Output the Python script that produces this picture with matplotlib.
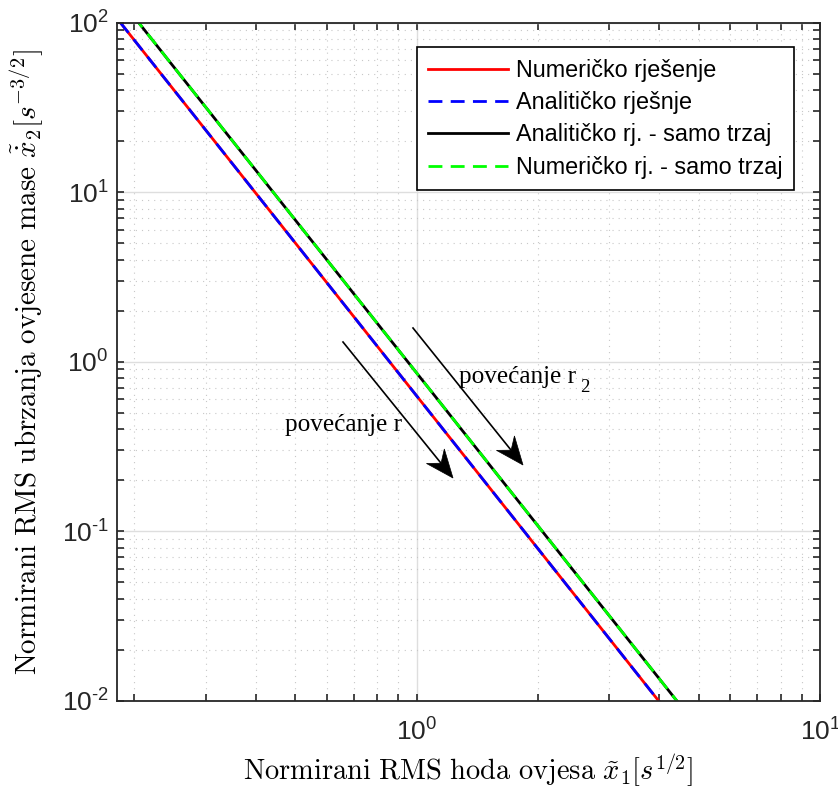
import numpy as np
import matplotlib
matplotlib.use("Agg")
import matplotlib.pyplot as plt
from matplotlib.patches import Polygon
from matplotlib.ticker import LogLocator, NullFormatter, FuncFormatter

plt.rcParams['mathtext.fontset'] = 'custom'
plt.rcParams['mathtext.rm'] = 'Liberation Sans'
plt.rcParams['mathtext.it'] = 'Liberation Sans:italic'
plt.rcParams['font.family'] = ['Liberation Sans', 'DejaVu Sans']

# ---- data ----
x_num = [0.17, 0.25, 0.5, 1.0, 2.0, 4.0, 5.0]
y_num = [128.0, 40.3, 5.04, 0.63, 0.0788, 0.00984, 0.00504]
x_ana = [0.17, 0.25, 0.5, 1.0, 2.0, 4.0, 5.0]
y_ana = [128.0, 40.3, 5.04, 0.63, 0.0788, 0.00984, 0.00504]
x_ana_j = [0.17, 0.25, 0.5, 1.0, 2.0, 4.0, 5.0]
y_ana_j = [175.0, 55.0, 6.88, 0.86, 0.1075, 0.01344, 0.00688]
x_num_j = [0.17, 0.25, 0.5, 1.0, 2.0, 4.0, 5.0]
y_num_j = [175.0, 55.0, 6.88, 0.86, 0.1075, 0.01344, 0.00688]

labels = ['Numeričko rješenje', 'Analitičko rješnje',
          'Analitičko rj. - samo trzaj', 'Numeričko rj. - samo trzaj']
xlim = (0.181, 10)
ylim = (1e-2, 1e2)

W, H = 838, 789
fig = plt.figure(figsize=(W / 100, H / 100), dpi=100)
ax = fig.add_axes([117 / W, 1 - 700.7 / H, (820 - 117) / W, (700.7 - 22.7) / H])

ax.plot(x_num, y_num, color='#ff0000', lw=2, label=labels[0])
ax.plot(x_ana, y_ana, color='#0000ff', lw=2, ls='--', dashes=(5, 3), label=labels[1])
ax.plot(x_ana_j, y_ana_j, color='#000000', lw=2, label=labels[2])
ax.plot(x_num_j, y_num_j, color='#00ff00', lw=2, ls='--', dashes=(5, 3), label=labels[3])

ax.set_xscale('log')
ax.set_yscale('log')
ax.set_xlim(*xlim)
ax.set_ylim(*ylim)

ax.xaxis.set_major_locator(LogLocator(base=10, numticks=10))
ax.yaxis.set_major_locator(LogLocator(base=10, numticks=10))
ax.xaxis.set_minor_locator(LogLocator(base=10, subs=np.arange(2, 10), numticks=20))
ax.yaxis.set_minor_locator(LogLocator(base=10, subs=np.arange(2, 10), numticks=20))
ax.xaxis.set_minor_formatter(NullFormatter())
ax.yaxis.set_minor_formatter(NullFormatter())


def tick_fmt(v, p):
    e = int(round(np.log10(v)))
    if e < 0:
        return r'$10^{\text{-}%d}$' % (-e)
    return r'$10^{%d}$' % e


fmt = FuncFormatter(tick_fmt)
ax.xaxis.set_major_formatter(fmt)
ax.yaxis.set_major_formatter(fmt)

edge = '#262626'
for s in ax.spines.values():
    s.set_color(edge)
    s.set_linewidth(1.3)
ax.tick_params(which='both', direction='in', top=True, right=True,
               length=5, width=1.2, color=edge, labelsize=19, labelcolor='#262626')
ax.tick_params(axis='x', pad=13)
ax.tick_params(axis='y', pad=6)

ax.grid(True, which='major', color='#dedede', lw=1, ls='-')
ax.grid(True, which='minor', color='#c8c8c8', lw=0.8, ls=(0, (1, 4.5)))
ax.set_axisbelow(True)

leg = ax.legend(loc='upper right', bbox_to_anchor=(0.963, 0.964), borderaxespad=0,
                fontsize=16.8, handlelength=3.4, handletextpad=0.35, labelspacing=0.4,
                borderpad=0.5, fancybox=False, framealpha=1, edgecolor='#000000')
leg.get_frame().set_linewidth(1.2)

ax.set_xlabel(r'$\mathrm{Normirani\ RMS\ hoda\ ovjesa}\ \tilde{x}_1[s^{1/2}]$',
              fontsize=20.5, math_fontfamily='cm')
ax.set_ylabel(r'$\mathrm{Normirani\ RMS\ ubrzanja\ ovjesene\ mase}\ \tilde{\dot{x}}_2[s^{-3/2}]$',
              fontsize=21, math_fontfamily='cm')
ax.xaxis.set_label_coords(0.5, (700.7 - 751) / 678)
ax.yaxis.set_label_coords((46 - 117) / 703, 0.5)

# ---- annotations (figure pixel coordinates) ----
arrows = [((343, 342), (453, 478)), ((413, 328), (523, 465))]
for (x0, y0), (x1, y1) in arrows:
    p0 = np.array([x0, H - y0], float)
    p1 = np.array([x1, H - y1], float)
    d = (p1 - p0) / np.linalg.norm(p1 - p0)
    n = np.array([-d[1], d[0]])
    L, hw, notch = 28, 11.5, 9
    back = p1 - d * L
    c1 = back + n * hw
    c2 = back - n * hw
    nb = p1 - d * (L - notch)
    fig.add_artist(plt.Line2D([p0[0] / W, nb[0] / W], [p0[1] / H, nb[1] / H],
                              transform=fig.transFigure, color='k', lw=1.2))
    pts = np.array([p1, c1, nb, c2]) / np.array([W, H])
    fig.add_artist(Polygon(pts, closed=True, transform=fig.transFigure,
                           facecolor='k', edgecolor='k', lw=0.5))

fig.text(285 / W, 1 - 425 / H, 'povećanje r', family='Liberation Serif', fontsize=18.2,
         ha='left', va='center')
fig.text(459 / W, 1 - 377 / H, 'povećanje r', family='Liberation Serif', fontsize=18.2,
         ha='left', va='center')
fig.text(580 / W, 1 - 387.5 / H, '2', family='Liberation Serif', fontsize=13.5,
         ha='left', va='center')

fig.savefig('out.png', dpi=100)
